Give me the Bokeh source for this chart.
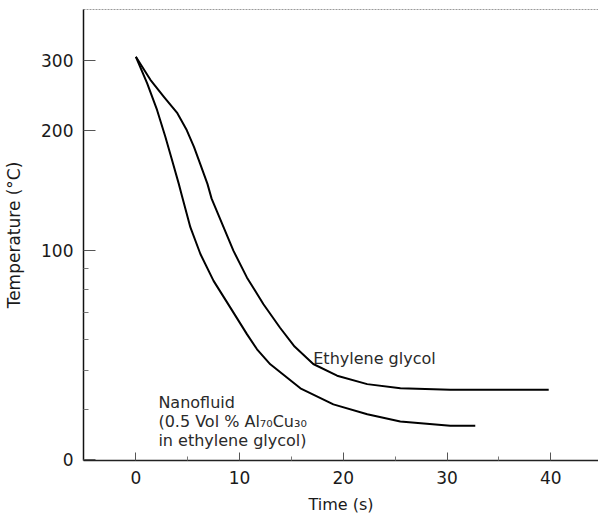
from bokeh.plotting import figure
from bokeh.models import Range1d, FixedTicker, CustomJSTickFormatter, LinearAxis, Label
from bokeh.embed import file_html
from bokeh.resources import INLINE

# Ethylene glycol quench curve (time s, temperature °C)
time_eg = [0.0, 1.4, 2.7, 4.0, 4.9, 5.6, 6.2, 6.9, 7.3, 9.4, 10.7, 12.3, 13.9, 15.3, 17.1, 19.4, 22.3, 25.5, 30.3, 39.8]
temp_eg = [306, 268, 243, 221, 200.5, 182, 165, 147, 135, 100, 85.7, 73.4, 64.1, 57.5, 52.0, 48.6, 46.3, 45.2, 44.8, 44.8]

# Nanofluid (0.5 vol% Al70Cu30 in ethylene glycol)
time_nf = [0.0, 1.08, 2.04, 2.84, 3.49, 4.13, 4.45, 5.25, 6.22, 7.49, 9.11, 10.72, 11.68, 12.96, 15.86, 19.04, 22.31, 25.49, 30.31, 32.72]
temp_nf = [306, 262.8, 225.2, 192.9, 168.5, 147.2, 136.9, 114.5, 98.1, 84.0, 72.0, 61.7, 56.6, 51.9, 45.2, 41.2, 38.9, 37.3, 36.4, 36.4]

x_ticks = [0, 10, 20, 30, 40]
x_minor = [5, 15, 25, 35]
y_ticks = [30, 100, 200, 300]
y_minor = [40, 50, 60, 70, 80, 90]

FONT = "DejaVu Sans"
INK = "#1a1a1a"

p = figure(width=598, height=517, output_backend="svg", toolbar_location=None,
           y_axis_type="log",
           x_range=Range1d(-5.05, 44.6), y_range=Range1d(29.8, 402),
           min_border_left=83, min_border_right=0, min_border_top=9, min_border_bottom=57)
p.grid.visible = False
p.outline_line_color = None
p.background_fill_color = "white"
p.border_fill_color = "white"

p.line(time_eg, temp_eg, line_color="black", line_width=2, line_join="round")
p.line(time_nf, temp_nf, line_color="black", line_width=2, line_join="round")

# x axis
xa = p.xaxis[0]
xa.ticker = FixedTicker(ticks=x_ticks, minor_ticks=x_minor)
xa.axis_label = "Time (s)"
xa.axis_label_text_font = FONT
xa.axis_label_text_font_style = "normal"
xa.axis_label_text_font_size = "16px"
xa.axis_label_text_color = INK
xa.axis_label_standoff = 8
xa.major_label_text_font = FONT
xa.major_label_text_font_size = "17px"
xa.major_label_text_color = INK
xa.major_label_standoff = 10
xa.axis_line_color = "#222222"
xa.axis_line_width = 1.5
xa.major_tick_in = 8
xa.major_tick_out = 0
xa.minor_tick_in = 4
xa.minor_tick_out = 0
xa.major_tick_line_color = "#555555"
xa.minor_tick_line_color = "#777777"

# y axis (log)
ya = p.yaxis[0]
ya.ticker = FixedTicker(ticks=y_ticks, minor_ticks=y_minor)
ya.formatter = CustomJSTickFormatter(code="return (tick < 31) ? '0' : String(Math.round(tick));")
ya.axis_label = "Temperature (\u00b0C)"
ya.axis_label_text_font = FONT
ya.axis_label_text_font_style = "normal"
ya.axis_label_text_font_size = "17px"
ya.axis_label_text_color = INK
ya.axis_label_standoff = 14
ya.major_label_text_font = FONT
ya.major_label_text_font_size = "17px"
ya.major_label_text_color = INK
ya.major_label_standoff = 10
ya.axis_line_color = "#111111"
ya.axis_line_width = 1.5
ya.major_tick_in = 12
ya.major_tick_out = 0
ya.minor_tick_in = 5
ya.minor_tick_out = 0
ya.major_tick_line_color = "#555555"
ya.minor_tick_line_color = "#777777"

# faint top frame line
top = LinearAxis(ticker=FixedTicker(ticks=[]), major_label_text_font_size="0px",
                 major_label_standoff=0, axis_line_color="#9a9a9a", axis_line_width=1,
                 axis_line_dash="2 1",
                 major_tick_line_color=None, minor_tick_line_color=None)
p.add_layout(top, "above")

# annotations
lab_kw = dict(text_font=FONT, text_font_size="16px", text_color="#2a2a2a",
              text_baseline="alphabetic", text_align="left")
p.add_layout(Label(x=17.1, y=53.8, text="Ethylene glycol", **lab_kw))
p.add_layout(Label(x=2.17, y=41.7, text="Nanofluid", **lab_kw))
p.add_layout(Label(x=2.17, y=41.7, y_offset=-19, text="(0.5 Vol % Al\u2087\u2080Cu\u2083\u2080", **lab_kw))
p.add_layout(Label(x=2.17, y=41.7, y_offset=-38, text="in ethylene glycol)", **lab_kw))

open("out.html", "w").write(file_html(p, INLINE))
